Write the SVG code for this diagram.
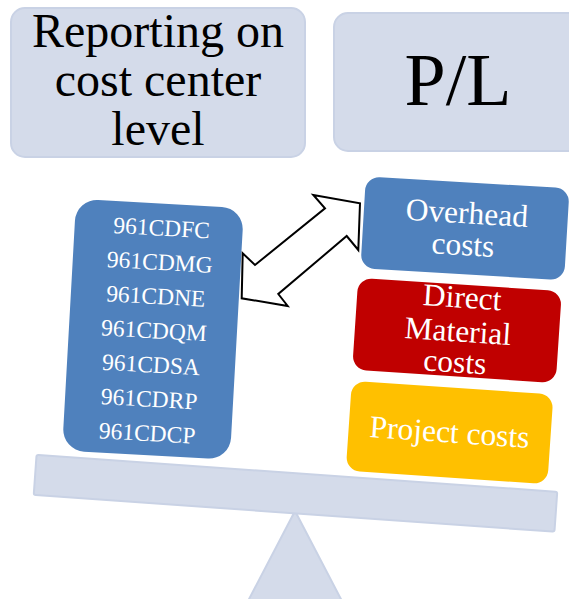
<svg xmlns="http://www.w3.org/2000/svg" width="569" height="599" viewBox="0 0 569 599">
  <style>
    .pale { fill: #D4DBEA; stroke: #C9D2E5; stroke-width: 2; }
    .serif { font-family: "Liberation Serif", "Times New Roman", serif; }
    .dark { fill: #000000; }
    .light { fill: #FFFFFF; }
    .mid { text-anchor: middle; }
    .blue { fill: #4F81BD; }
    .red { fill: #C00000; }
    .amber { fill: #FFC000; }
    .arrow { fill: #FFFFFF; stroke: #000000; stroke-width: 2; stroke-linejoin: miter; }
  </style>

  <!-- seesaw: fulcrum and tilted beam -->
  <g id="fulcrum">
    <polygon class="pale" points="295,511 247,603 343,603"/>
  </g>
  <g id="beam" transform="translate(295.5,493.3) rotate(4.05)">
    <rect class="pale" x="-261" y="-20" width="522" height="40" rx="2"/>
  </g>

  <!-- header boxes -->
  <g id="n-reporting">
    <rect class="pale" x="11" y="8" width="294" height="149" rx="14"/>
    <text class="serif dark mid" font-size="48" x="158" y="47">Reporting on</text>
    <text class="serif dark mid" font-size="48" x="158" y="96">cost center</text>
    <text class="serif dark mid" font-size="48" x="158" y="145">level</text>
  </g>
  <g id="n-pl">
    <rect class="pale" x="334" y="13" width="250" height="138" rx="14"/>
    <text class="serif dark mid" font-size="74" x="458" y="105">P/L</text>
  </g>

  <!-- cost centre codes -->
  <g id="n-codes" transform="translate(153,329.3) rotate(3.2)">
    <rect class="blue" x="-84" y="-126" width="168" height="252" rx="22"/>
    <g class="serif light mid" font-size="23.5">
      <text x="3" y="-94">961CDFC</text>
      <text x="3" y="-59.7">961CDMG</text>
      <text x="1" y="-25.4">961CDNE</text>
      <text x="1" y="8.9">961CDQM</text>
      <text x="0" y="43.2">961CDSA</text>
      <text x="0" y="77.5">961CDRP</text>
      <text x="0" y="111.8">961CDCP</text>
    </g>
  </g>

  <!-- cost categories -->
  <g id="n-overhead" transform="translate(465,228.3) rotate(3.4)">
    <rect class="blue" x="-102" y="-46" width="204" height="92" rx="14"/>
    <text class="serif light mid" font-size="31.5" x="1" y="-5">Overhead</text>
    <text class="serif light mid" font-size="31.5" x="-1" y="27">costs</text>
  </g>
  <g id="n-direct" transform="translate(457,330.4) rotate(3.8)">
    <rect class="red" x="-102" y="-46" width="204" height="92" rx="14"/>
    <text class="serif light mid" font-size="31.5" x="3" y="-23">Direct</text>
    <text class="serif light mid" font-size="31.5" x="1" y="11">Material</text>
    <text class="serif light mid" font-size="31.5" x="0" y="42">costs</text>
  </g>
  <g id="n-project" transform="translate(449.6,432.5) rotate(3.9)">
    <rect class="amber" x="-101" y="-45" width="202" height="90" rx="14"/>
    <text class="serif light mid" font-size="31.5" x="0" y="10">Project costs</text>
  </g>

  <!-- two-way link between codes and overhead -->
  <g id="connectors">
    <polygon class="arrow" points="360,203.3 358.3,250 346.7,236 278.3,294 287.7,306 241.7,298.3 242.7,253.3 255,265 325,208.3 313.3,195"/>
  </g>
</svg>
